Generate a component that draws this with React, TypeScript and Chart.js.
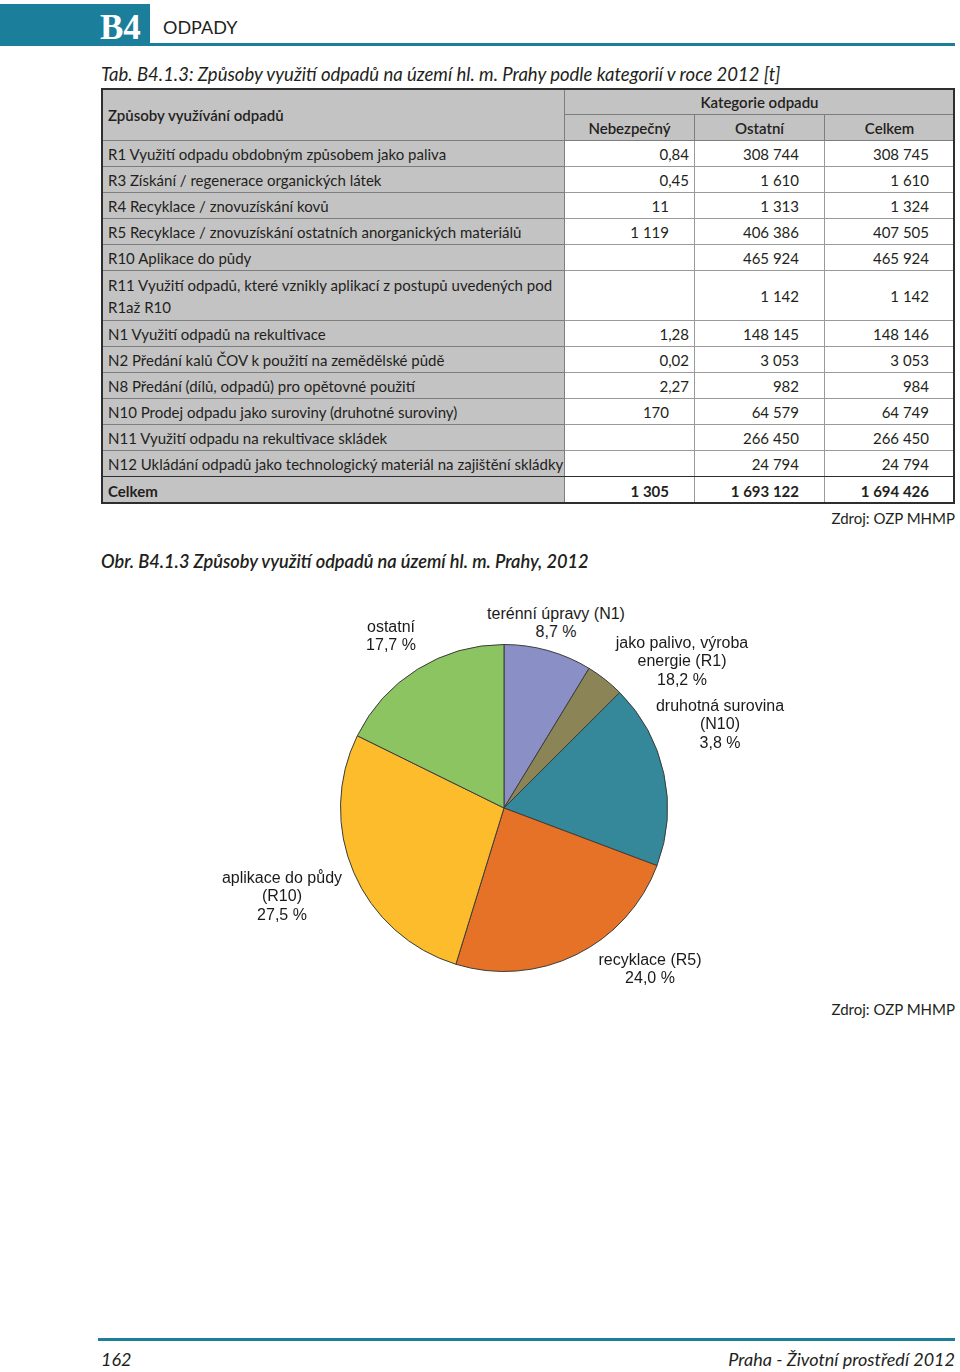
import React, { useEffect, useRef } from "react";
import { Chart, registerables } from "chart.js";
Chart.register(...registerables);

// ---------- data ----------
const sectionCode = "B4";
const sectionTitle = "ODPADY";
const tableTitle = "Tab. B4.1.3: Způsoby využití odpadů na území hl. m. Prahy podle kategorií v roce 2012 [t]";
const firstColumnHeader = "Způsoby využívání odpadů";
const categoryHeader = "Kategorie odpadu";
const columnHeaders = ["Nebezpečný", "Ostatní", "Celkem"];
const rowLabels = [
  "R1 Využití odpadu obdobným způsobem jako paliva",
  "R3 Získání / regenerace  organických látek",
  "R4 Recyklace / znovuzískání kovů",
  "R5 Recyklace / znovuzískání ostatních anorganických materiálů",
  "R10 Aplikace do půdy",
  "R11 Využití odpadů, které vznikly aplikací z postupů uvedených pod\nR1až R10",
  "N1 Využití odpadů na rekultivace",
  "N2 Předání kalů ČOV k použití na zemědělské půdě",
  "N8 Předání (dílů, odpadů) pro opětovné použití",
  "N10 Prodej odpadu jako suroviny (druhotné suroviny)",
  "N11 Využití odpadu na rekultivace skládek",
  "N12 Ukládání odpadů jako technologický materiál na zajištění skládky",
];
const hazardousValues = ["0,84", "0,45", "11", "1 119", "", "", "1,28", "0,02", "2,27", "170", "", ""];
const otherValues = ["308 744", "1 610", "1 313", "406 386", "465 924", "1 142", "148 145", "3 053", "982", "64 579", "266 450", "24 794"];
const totalValues = ["308 745", "1 610", "1 324", "407 505", "465 924", "1 142", "148 146", "3 053", "984", "64 749", "266 450", "24 794"];
const totalRowLabel = "Celkem";
const totalRowValues = ["1 305", "1 693 122", "1 694 426"];
const sourceText = "Zdroj: OZP MHMP";

const figureTitle = "Obr. B4.1.3 Způsoby využití odpadů na území hl. m. Prahy, 2012";
const pieLabelLines = [
  ["terénní úpravy (N1)"],
  ["druhotná surovina", "(N10)"],
  ["jako palivo, výroba", "energie (R1)"],
  ["recyklace (R5)"],
  ["aplikace do půdy", "(R10)"],
  ["ostatní"],
];
const pieValues = [8.7, 3.8, 18.2, 24.0, 27.5, 17.7];
const pieColors = ["#8a8fc6", "#8a8457", "#35889a", "#e57227", "#fdbc2c", "#8cc462"];

const pageNumber = "162";
const footerTitle = "Praha - Životní prostředí 2012";

// ---------- layout ----------
const TEAL = "#1b7e9b";
const TEXT = "#231f20";
const MYRIAD = "Lato, 'Open Sans', sans-serif";
const ARIAL = "'Liberation Sans', Arial, sans-serif";
const colX = [101, 565, 695, 825, 955];
const headerY = [88, 115, 141];
const rowHeights = [26, 26, 26, 26, 26, 50, 26, 26, 26, 26, 26, 26];
const totalRowHeight = 27;
// label anchors: [centerX, first line centerY]
const pieLabelPos = [
  [556, 614],
  [720, 706],
  [682, 643],
  [650, 960],
  [282, 878],
  [391, 627],
];

const GRAY = "#c3c3c3";
const LINE_G = "#7d7d7d";
const LINE_W = "#9a9a9a";

function fmtPct(v: number) {
  return v.toFixed(1).replace(".", ",") + " %";
}

function Cell(props: any) {
  const { x, y, w, h, bg, align, padR, padL, bold, weight, children, line } = props;
  return (
    <div
      style={{
        position: "absolute",
        left: x,
        top: y,
        width: w,
        height: h,
        boxSizing: "border-box",
        background: bg || "transparent",
        borderRight: `1px solid ${line}`,
        borderBottom: `1px solid ${line}`,
        display: "flex",
        alignItems: "center",
        justifyContent: align === "right" ? "flex-end" : align === "center" ? "center" : "flex-start",
        paddingRight: padR || 0,
        paddingLeft: padL || 0,
        fontWeight: weight || (bold ? 700 : 400),
        whiteSpace: "pre-line",
        lineHeight: "22px",
        paddingTop: 1,
      }}
    >
      {children}
    </div>
  );
}

export default function App() {
  const canvasRef = useRef<HTMLCanvasElement | null>(null);

  useEffect(() => {
    if (!canvasRef.current) return;
    const chart = new Chart(canvasRef.current, {
      type: "pie",
      data: {
        labels: pieLabelLines.map((l) => l.join(" ")),
        datasets: [
          {
            data: pieValues,
            backgroundColor: pieColors,
            borderColor: "#3c3c3c",
            borderWidth: 1,
          },
        ],
      },
      options: {
        responsive: false,
        animation: false,
        layout: { padding: 0 },
        plugins: { legend: { display: false }, tooltip: { enabled: false } },
      },
    });
    return () => chart.destroy();
  }, []);

  const cells: any[] = [];
  // header
  cells.push(
    <Cell key="h0" x={colX[0]} y={headerY[0]} w={colX[1] - colX[0]} h={headerY[2] - headerY[0]} bg={GRAY} line={LINE_G} padL={7} weight={600}>
      {firstColumnHeader}
    </Cell>
  );
  cells.push(
    <Cell key="hk" x={colX[1]} y={headerY[0]} w={colX[4] - colX[1]} h={headerY[1] - headerY[0]} bg={GRAY} line={LINE_G} align="center" weight={600}>
      {categoryHeader}
    </Cell>
  );
  columnHeaders.forEach((c, i) => {
    cells.push(
      <Cell key={"hc" + i} x={colX[i + 1]} y={headerY[1]} w={colX[i + 2] - colX[i + 1]} h={headerY[2] - headerY[1]} bg={GRAY} line={LINE_G} align="center" weight={600}>
        {c}
      </Cell>
    );
  });
  let y = headerY[2];
  rowLabels.forEach((label, r) => {
    const h = rowHeights[r];
    const vals = [hazardousValues[r], otherValues[r], totalValues[r]];
    cells.push(
      <Cell key={"l" + r} x={colX[0]} y={y} w={colX[1] - colX[0]} h={h} bg={GRAY} line={LINE_G} padL={7}>
        {label}
      </Cell>
    );
    vals.forEach((v, c) => {
      const pad = c === 0 ? (v.includes(",") ? 5 : 25) : 25;
      cells.push(
        <Cell key={"v" + r + "-" + c} x={colX[c + 1]} y={y} w={colX[c + 2] - colX[c + 1]} h={h} bg="#fff" line={LINE_W} align="right" padR={pad}>
          {v.replace(/ /g, "\u00a0")}
        </Cell>
      );
    });
    y += h;
  });
  cells.push(
    <Cell key="tl" x={colX[0]} y={y} w={colX[1] - colX[0]} h={totalRowHeight} bg={GRAY} line={LINE_G} padL={7} bold>
      {totalRowLabel}
    </Cell>
  );
  totalRowValues.forEach((v, c) => {
    cells.push(
      <Cell key={"tv" + c} x={colX[c + 1]} y={y} w={colX[c + 2] - colX[c + 1]} h={totalRowHeight} bg="#fff" line={LINE_W} align="right" padR={25} bold>
        {v.replace(/ /g, "\u00a0")}
      </Cell>
    );
  });
  const tableBottom = y + totalRowHeight;

  return (
    <div
      style={{
        position: "absolute",
        left: 0,
        top: 0,
        width: 960,
        height: 1372,
        background: "#fff",
        color: TEXT,
        fontFamily: MYRIAD,
        overflow: "hidden",
      }}
    >
      {/* header */}
      <div style={{ position: "absolute", left: 0, top: 4, width: 150, height: 42, background: TEAL }} />
      <div
        style={{
          position: "absolute",
          left: 100,
          top: 6,
          fontFamily: "'Liberation Serif', 'DejaVu Serif', serif",
          fontWeight: 700,
          fontSize: 35,
          lineHeight: "44px",
          color: "#fff",
        }}
      >
        {sectionCode}
      </div>
      <div style={{ position: "absolute", left: 150, top: 43, width: 805, height: 3, background: TEAL }} />
      <div style={{ position: "absolute", left: 163, top: 15, fontSize: 18, lineHeight: "24px" }}>{sectionTitle}</div>

      {/* table title */}
      <div style={{ position: "absolute", left: 101, top: 62, fontSize: 18.5, fontStyle: "italic", lineHeight: "24px", whiteSpace: "nowrap" }}>
        {tableTitle}
      </div>

      {/* table */}
      <div style={{ position: "absolute", left: 0, top: 0, fontSize: 15 }}>{cells}</div>
      <div
        style={{
          position: "absolute",
          left: colX[0],
          top: headerY[0],
          width: colX[4] - colX[0],
          height: tableBottom - headerY[0],
          boxSizing: "border-box",
          border: "2px solid #2e2e2e",
        }}
      />
      <div
        style={{
          position: "absolute",
          left: colX[0],
          top: y - 1,
          width: colX[4] - colX[0],
          height: 1,
          background: "#2e2e2e",
        }}
      />
      <div style={{ position: "absolute", right: 5, top: tableBottom + 4, fontSize: 15, lineHeight: "20px" }}>{sourceText}</div>

      {/* figure title */}
      <div style={{ position: "absolute", left: 101, top: 549, fontSize: 18.2, fontStyle: "italic", fontWeight: 600, lineHeight: "24px", whiteSpace: "nowrap" }}>
        {figureTitle}
      </div>

      {/* pie */}
      <canvas ref={canvasRef} width={328} height={328} style={{ position: "absolute", left: 340, top: 644, width: 328, height: 328 }} />
      {pieLabelLines.map((lines, i) => {
        const [cx, cy] = pieLabelPos[i];
        const all = [...lines, fmtPct(pieValues[i])];
        return (
          <div
            key={"pl" + i}
            style={{
              position: "absolute",
              left: cx - 100,
              top: cy - 9.25,
              width: 200,
              textAlign: "center",
              fontFamily: ARIAL,
              fontSize: 16,
              lineHeight: "18.5px",
              color: "#1a1a1a",
              whiteSpace: "nowrap",
            }}
          >
            {all.map((t, k) => (
              <div key={k}>{t}</div>
            ))}
          </div>
        );
      })}
      <div style={{ position: "absolute", right: 5, top: 999, fontSize: 15, lineHeight: "20px" }}>{sourceText}</div>

      {/* footer */}
      <div style={{ position: "absolute", left: 98, top: 1338, width: 857, height: 3, background: TEAL }} />
      <div style={{ position: "absolute", left: 101, top: 1347, fontSize: 18, fontStyle: "italic", lineHeight: "24px" }}>{pageNumber}</div>
      <div style={{ position: "absolute", right: 5, top: 1347, fontSize: 18, fontStyle: "italic", lineHeight: "24px" }}>{footerTitle}</div>
    </div>
  );
}
